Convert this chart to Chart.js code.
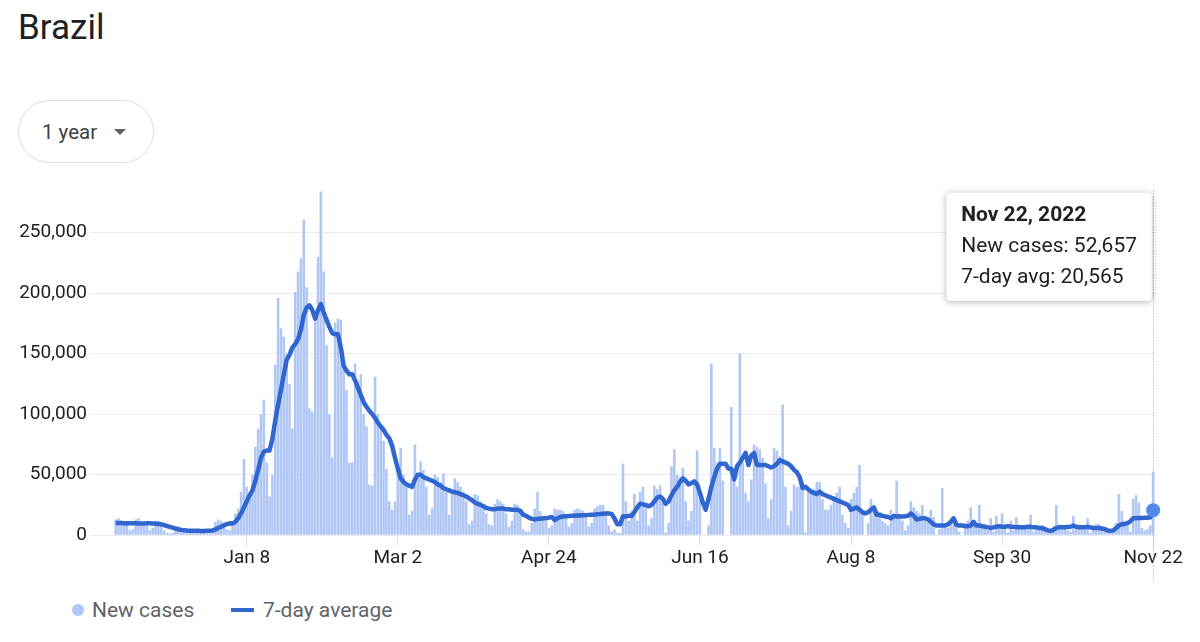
<!DOCTYPE html>
<html lang="en">
<head>
  <meta charset="UTF-8">
  <title>Brazil - New cases</title>
  <script src="https://cdn.jsdelivr.net/npm/chart.js"></script>
  <style>
    body { margin: 0; width: 1200px; height: 642px; position: relative; overflow: hidden; background: #fff; font-family: Roboto, "Noto Sans", Arial, sans-serif; }
    h1 { position: absolute; left: 18px; top: 8px; margin: 0; font-size: 35px; line-height: 40px; font-weight: 400; color: #202124; }
    .range { position: absolute; left: 18px; top: 100px; width: 136px; height: 63px; box-sizing: border-box; border: 1px solid #dadce0; border-radius: 32px; }
    .range span { position: absolute; left: 23px; top: 19px; font-size: 20.5px; line-height: 24px; color: #3c4043; }
    .range i { position: absolute; left: 95px; top: 28px; width: 0; height: 0; border-left: 6px solid transparent; border-right: 6px solid transparent; border-top: 6px solid #5f6368; }
    #wrap { position: absolute; left: 0; top: 176px; width: 1200px; height: 410px; }
    .legend { position: absolute; top: 598px; left: 0; height: 24px; font-size: 21px; line-height: 24px; color: #5f6368; }
    .legend span { position: absolute; top: 0; white-space: nowrap; }
    .legend .dot { left: 72px; top: 6px; width: 12px; height: 12px; border-radius: 50%; background: #b0c6f4; }
    .legend .dash { left: 231px; top: 10px; width: 23px; height: 4px; background: #3166d0; }
  </style>
</head>
<body>
  <h1>Brazil</h1>
  <div class="range"><span>1 year</span><i></i></div>

  <div id="wrap"><canvas id="cases"></canvas></div>

  <div class="legend">
    <span class="dot"></span><span style="left:92px">New cases</span>
    <span class="dash"></span><span style="left:263px">7-day average</span>
  </div>

  <script>
    // daily new cases in thousands, one value per day from Nov 23, 2021 to Nov 22, 2022 (rows are Tue..Mon)
    const newCases = [
      13, 14, 12, 11, 9, 4, 5,
      13, 14, 11, 10, 9, 4, 6,
      12, 12, 9, 4, 2, 1.5, 2,
      5, 5, 4, 4, 3, 2, 2,
      5, 5, 4, 3, 2, 1.5, 3,
      11, 13, 12, 10, 5, 4, 9,
      18, 22, 36, 63, 40, 30, 50,
      73, 88, 100, 112, 60, 32, 50,
      141, 196, 171, 164, 150, 125, 88,
      201, 218, 229, 261, 205, 105, 102,
      179, 230, 284, 218, 157, 100, 64,
      176, 179, 178, 138, 120, 60, 60,
      142, 127, 133, 100, 90, 42, 41,
      131, 100, 90, 78, 55, 28, 21,
      28, 58, 72, 50, 40, 17, 20,
      75, 47, 61, 54, 40, 17, 22,
      50, 48, 44, 51, 36, 17, 34,
      47, 44, 40, 36, 28, 9, 12,
      34, 33, 28, 25, 18, 9, 8,
      26, 30, 28, 26, 18, 7, 12,
      26, 25, 22, 5, 3, 3, 10,
      22, 36, 20, 15, 12, 6, 8,
      22, 21, 21, 20, 14, 7, 10,
      21, 22, 21, 20, 14, 7, 10,
      22, 24, 25, 25, 20, 8, 3,
      5, 2, 2, 59, 28, 12, 20,
      34, 12, 36, 40, 26, 8, 14,
      41, 38, 41, 30, 2, 10, 57,
      71, 50, 48, 56, 28, 12, 20,
      45, 70, 30, 0, 0, 8, 142,
      72, 60, 72, 45, 0, 0, 106,
      55, 40, 150, 60, 35, 28, 46,
      75, 73, 71, 64, 43, 14, 30,
      72, 70, 65, 108, 40, 8, 20,
      42, 40, 40, 45, 2, 36, 36,
      38, 44, 44, 30, 21, 21, 25,
      32, 35, 40, 17, 10, 6, 30,
      35, 40, 58, 20, 0, 10, 30,
      21, 18, 15, 12, 10, 8, 21,
      15, 45, 18, 12, 4, 8, 28,
      23, 20, 18, 25, 12, 10, 21,
      15, 0, 5, 39, 8, 6, 10,
      14, 8, 3, 0, 10, 12, 23,
      10, 6, 25, 9, 8, 4, 14,
      3, 16, 8, 18, 7, 2, 12,
      4, 15, 9, 8, 7, 5, 17,
      3, 6, 8, 8, 6, 2, 1,
      3, 25, 9, 7, 6, 4, 3,
      16, 8, 7, 6, 5, 14, 2,
      8, 9, 9, 5, 3, 2, 1,
      4, 10, 34, 20, 10, 8, 3,
      30, 33, 27, 6, 4, 5, 8,
      52.657
    ];

    // 7-day average in thousands, same days
    const avg7 = [
      10, 10, 10, 9.9, 9.9, 9.8, 9.8,
      9.8, 9.7, 9.7, 9.7, 9.8, 9.8, 9.7,
      9.5, 9.3, 9.0, 8.4, 7.6, 6.9, 6.2,
      5.5, 4.9, 4.4, 4.0, 3.8, 3.7, 3.6,
      3.6, 3.6, 3.5, 3.5, 3.6, 3.7, 4.0,
      4.8, 5.9, 7.0, 8.2, 9.2, 9.8, 9.7,
      11, 14, 18, 23, 28, 33, 37,
      45, 54, 64, 69, 70, 70, 80,
      95, 108, 120, 133, 145, 149, 155,
      158, 162, 170, 182, 188, 190, 186,
      179, 186, 191, 184, 178, 172, 167,
      166, 166, 155, 140, 136, 133, 133,
      128, 122, 116, 110, 106, 103, 100,
      97, 93, 90, 87, 83, 80, 74,
      64, 55, 47, 44, 42, 41, 40,
      46, 50, 50, 48, 47, 46, 45,
      44, 42, 41, 39, 38, 37, 36,
      35.5, 35, 34, 33, 32, 30.5, 29,
      27, 26, 25, 24, 22.5, 22, 21.5,
      21.5, 22, 22, 22, 21.5, 21.5, 21,
      21, 21, 20, 17, 16, 14.5, 13.5,
      13, 13.5, 13.5, 14, 14, 14.5, 15,
      12.5, 14, 15, 15.5, 15.7, 15.8, 16,
      16, 16.2, 16.3, 16.5, 16.5, 16.8, 17,
      17, 17.3, 17.5, 17.8, 18, 18, 17.5,
      14, 9, 9, 15.7, 15.5, 16, 16,
      19, 23, 26, 25.5, 25, 24, 25,
      28, 31, 32, 30, 26, 28, 33,
      37, 40, 44, 47, 45, 42, 43,
      44.5, 42, 35, 27, 21, 30, 40,
      48, 55, 59, 59, 59, 55, 55,
      46, 57, 60, 64, 68, 58, 66,
      68, 58, 58, 58, 58, 57, 56,
      57, 59, 62, 61, 60, 59, 57,
      54, 52, 48, 39, 40, 38, 36,
      35, 34, 36, 34, 33, 32, 31,
      30, 29, 28, 27, 26, 25, 21,
      22, 23, 21, 19, 18, 19, 21,
      23, 17, 17, 16, 15.5, 15, 14,
      16, 15.5, 15.5, 15.5, 15.7, 16, 18,
      16, 13, 13.5, 14, 14, 13, 11,
      9, 8, 8, 8, 8, 9, 11,
      14, 8.5, 8, 8, 7.5, 7.5, 8,
      11, 8, 8, 7.5, 7, 6.5, 6,
      6.5, 7, 7.5, 7, 7, 7.5, 7,
      7, 6.5, 6.5, 6.5, 6.5, 7, 7,
      6.5, 6.5, 6, 6, 5, 4, 3.3,
      4.5, 6, 6.5, 6.5, 6.5, 6.8, 7,
      8, 7, 6.5, 6.5, 6.5, 7, 6.5,
      6, 6, 6, 5.5, 5, 4, 3.3,
      4, 6, 8, 9, 9.5, 10, 11.5,
      14, 14, 14.2, 14.3, 14.4, 14.5, 14.8,
      20.565
    ];

    const tickDays = [46, 99, 152, 205, 258, 311, 364];
    const tickLabels = ['Jan 8', 'Mar 2', 'Apr 24', 'Jun 16', 'Aug 8', 'Sep 30', 'Nov 22'];
    const yTicks = [0, 50000, 100000, 150000, 200000, 250000];
    const tipNames = ['New cases', '7-day avg'];
    const startDate = new Date(2021, 10, 23);
    const last = newCases.length - 1;

    function dayLabel(i) {
      const d = new Date(startDate.getFullYear(), startDate.getMonth(), startDate.getDate() + i);
      return d.toLocaleDateString('en-US', { month: 'short', day: 'numeric', year: 'numeric' });
    }

    Chart.defaults.font.family = 'Roboto, "Noto Sans", Arial, sans-serif';

    // tooltip box pinned to the top right corner of the plot
    Chart.Tooltip.positioners.corner = function () {
      const a = this.chart.chartArea;
      return { x: a.right - 8, y: a.top + 2 };
    };

    // dotted guide through the selected day
    const guideLine = {
      id: 'guideLine',
      beforeDatasetsDraw(chart) {
        const pt = chart.getDatasetMeta(1).data[last];
        const a = chart.chartArea, ctx = chart.ctx;
        const x = Math.round(pt.x) + 0.5;
        ctx.save();
        ctx.strokeStyle = '#9aa0a6';
        ctx.lineWidth = 1;
        ctx.setLineDash([1, 2]);
        ctx.beginPath();
        ctx.moveTo(x, a.top);
        ctx.lineTo(x, a.bottom + 46);
        ctx.stroke();
        ctx.restore();
      }
    };

    // soft shadow behind the tooltip card
    const tipShadow = {
      id: 'tipShadow',
      beforeTooltipDraw(chart, args) {
        const t = args.tooltip, ctx = chart.ctx;
        ctx.save();
        ctx.shadowColor = 'rgba(60,64,67,0.35)';
        ctx.shadowBlur = 7;
        ctx.shadowOffsetY = 1;
        ctx.fillStyle = '#fff';
        ctx.beginPath();
        ctx.roundRect(t.x, t.y, t.width, t.height, 4);
        ctx.fill();
        ctx.restore();
      }
    };

    const chart = new Chart(document.getElementById('cases'), {
      type: 'bar',
      data: {
        datasets: [
          {
            type: 'bar',
            label: 'New cases',
            data: newCases.map((v, i) => ({ x: i, y: v * 1000 })),
            backgroundColor: '#b0c6f4',
            barPercentage: 0.9,
            categoryPercentage: 1,
            order: 2
          },
          {
            type: 'line',
            label: '7-day average',
            data: avg7.map((v, i) => ({ x: i, y: v * 1000 })),
            borderColor: '#3166d0',
            borderWidth: 4.5,
            borderJoinStyle: 'round',
            tension: 0,
            clip: false,
            pointRadius: c => (c.dataIndex === last ? 7 : 0),
            pointBackgroundColor: '#5389ea',
            pointBorderWidth: 0,
            order: 1
          }
        ]
      },
      options: {
        responsive: true,
        maintainAspectRatio: false,
        animation: false,
        events: [],
        layout: { padding: { left: 0, right: 44, top: 12, bottom: 14 } },
        plugins: {
          legend: { display: false },
          tooltip: {
            position: 'corner',
            xAlign: 'right',
            yAlign: 'top',
            caretSize: 0,
            caretPadding: 0,
            backgroundColor: '#fff',
            titleColor: '#202124',
            bodyColor: '#202124',
            titleFont: { size: 21, weight: 'bold' },
            bodyFont: { size: 21 },
            padding: { left: 15, right: 15, top: 11, bottom: 11 },
            titleMarginBottom: 6,
            bodySpacing: 5,
            cornerRadius: 4,
            borderColor: 'rgba(0,0,0,0.06)',
            borderWidth: 1,
            displayColors: false,
            animation: false,
            callbacks: {
              title: items => dayLabel(items[0].parsed.x),
              label: item => tipNames[item.datasetIndex] + ': ' + Math.round(item.parsed.y).toLocaleString('en-US')
            }
          }
        },
        scales: {
          x: {
            type: 'linear',
            min: -9,
            max: 365,
            offset: false,
            grid: { offset: false, drawOnChartArea: false, tickLength: 10, color: '#dadce0' },
            border: { display: false },
            afterBuildTicks: s => { s.ticks = tickDays.map(v => ({ value: v })); },
            ticks: {
              autoSkip: false,
              maxRotation: 0,
              padding: 2,
              color: '#202124',
              font: { size: 19 },
              callback: (v, i) => tickLabels[i]
            }
          },
          y: {
            min: 0,
            max: 285000,
            afterFit: s => { s.width = 90; },
            afterBuildTicks: s => { s.ticks = yTicks.map(v => ({ value: v })); },
            grid: { color: '#e8eaed', drawTicks: false },
            border: { display: false },
            ticks: {
              padding: 3,
              color: '#202124',
              font: { size: 19 },
              callback: v => v.toLocaleString('en-US')
            }
          }
        }
      },
      plugins: [guideLine, tipShadow]
    });

    chart.tooltip.setActiveElements(
      [{ datasetIndex: 0, index: last }, { datasetIndex: 1, index: last }],
      { x: 0, y: 0 }
    );
    chart.update();
  </script>
</body>
</html>
